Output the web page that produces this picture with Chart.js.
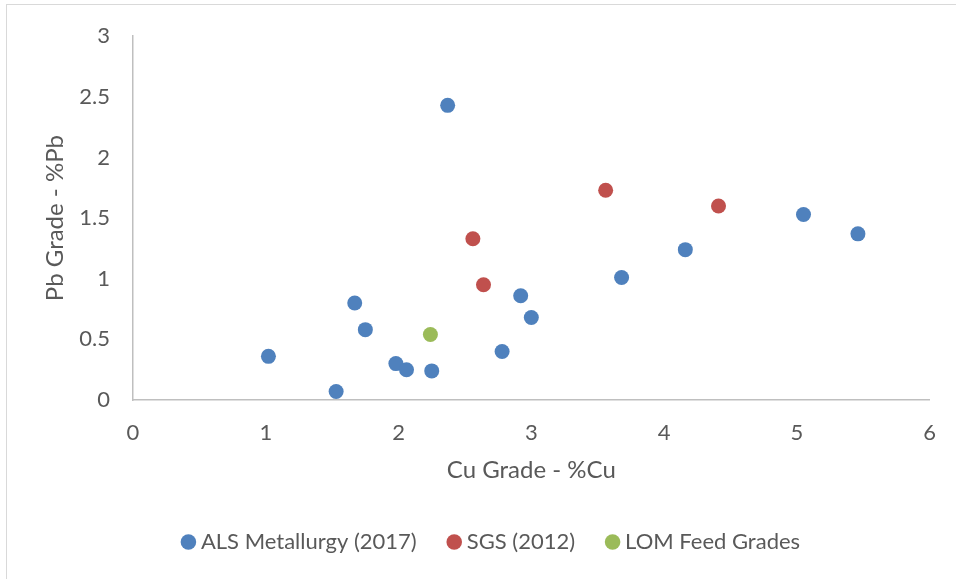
<!DOCTYPE html>
<html>
<head>
<meta charset="utf-8">
<script src="https://cdn.jsdelivr.net/npm/chart.js@4/dist/chart.umd.min.js"></script>
<style>
  body { margin: 0; overflow: hidden; background: #fff; }
  #frame { position: absolute; left: 6px; top: 4px; width: 1000px; height: 700px; border: 1px solid #d9d9d9; }
  #line-chart { position: absolute; left: 0; top: 0; }
</style>
</head>
<body>
<div id="frame"></div>
<canvas id="line-chart" width="956" height="579"></canvas>
<script>
const seriesNames = ['ALS Metallurgy (2017)', 'SGS (2012)', 'LOM Feed Grades'];
const seriesColors = ['#4f81bd', '#c0504d', '#9bbb59'];

// Cu grade (%) / Pb grade (%)
const alsCu = [1.02, 1.53, 1.67, 1.75, 1.98, 2.06, 2.25, 2.37, 2.78, 2.92, 3.0, 3.68, 4.16, 5.05, 5.46];
const alsPb = [0.36, 0.07, 0.80, 0.58, 0.30, 0.25, 0.24, 2.43, 0.40, 0.86, 0.68, 1.01, 1.24, 1.53, 1.37];
const sgsCu = [2.56, 2.64, 3.56, 4.41];
const sgsPb = [1.33, 0.95, 1.73, 1.60];
const lomCu = [2.24];
const lomPb = [0.54];

const textColor = '#595959';
const axisColor = '#bfbfbf';
const fontFamily = 'Lato, "Open Sans", sans-serif';

toPoints = (xs, ys) => xs.map((x, i) => ({ x: x, y: ys[i] }));

const allSeries = [toPoints(alsCu, alsPb), toPoints(sgsCu, sgsPb), toPoints(lomCu, lomPb)];

// legend rows carry a trailing padding, so nudge it back to the middle
const legendShift = {
  id: 'legendShift',
  afterLayout: (c) => {
    c.legend.left += 28;
    c.legend.right += 28;
  }
};

let chart = new Chart(document.getElementById('line-chart'), {
  type: 'scatter',
  data: {
    datasets: allSeries.map((pts, i) => ({
      label: seriesNames[i],
      data: pts,
      backgroundColor: seriesColors[i],
      borderColor: seriesColors[i],
      borderWidth: 0,
      pointRadius: 7.5,
      pointHoverRadius: 7.5
    }))
  },
  options: {
    responsive: false,
    animation: false,
    events: [],
    layout: { padding: { left: 0, top: 34, right: 25, bottom: 16 } },
    scales: {
      x: {
        type: 'linear',
        min: 0,
        max: 6,
        afterFit: (scale) => { scale.height = 95; },
        grid: { display: false, drawTicks: false },
        border: { color: axisColor, width: 1.5 },
        ticks: { stepSize: 1, padding: 20, color: textColor, font: { family: fontFamily, size: 22 } },
        title: {
          display: true,
          text: 'Cu Grade - %Cu',
          color: textColor,
          font: { family: fontFamily, size: 24 },
          padding: { top: 0, bottom: 10 }
        }
      },
      y: {
        type: 'linear',
        min: 0,
        max: 3,
        afterFit: (scale) => { scale.width = 133; },
        grid: { display: false, drawTicks: false },
        border: { color: axisColor, width: 1.5 },
        ticks: {
          stepSize: 0.5,
          padding: 23,
          color: textColor,
          font: { family: fontFamily, size: 22 },
          callback: (value) => value.toString()
        },
        title: {
          display: true,
          text: 'Pb Grade - %Pb',
          color: textColor,
          font: { family: fontFamily, size: 24 },
          padding: { top: 41, bottom: 0 }
        }
      }
    },
    plugins: {
      tooltip: { enabled: false },
      legend: {
        position: 'bottom',
        labels: {
          usePointStyle: true,
          pointStyle: 'circle',
          boxWidth: 3,
          boxHeight: 11,
          padding: 36,
          color: textColor,
          font: { family: fontFamily, size: 22 }
        }
      }
    }
  },
  plugins: [legendShift]
});
</script>
</body>
</html>
